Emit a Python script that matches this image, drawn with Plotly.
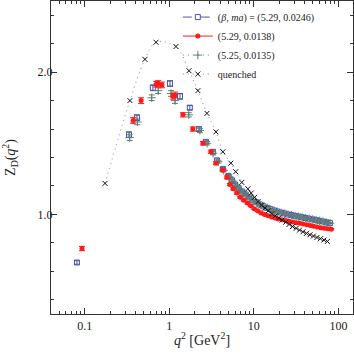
import plotly.graph_objects as go

FONT = "Liberation Serif, DejaVu Serif, serif"

# (beta, ma) = (5.29, 0.0246)
q2_a = [0.081, 0.334, 0.415, 0.64, 1.02, 1.34, 1.75, 2.24, 2.71, 3.28, 3.66, 4.3,
        5.0, 5.5, 6.0, 6.6, 7.3, 8.0, 8.8, 9.7, 10.7, 11.8, 13.0, 14.3, 15.7, 17.3,
        19.0, 20.9, 23.0, 25.3, 27.8, 30.6, 33.7, 37.0, 40.7, 44.8, 49.3, 54.2, 59.6,
        65.6, 72.1, 79.3]
z_a = [0.662, 1.56, 1.68, 1.89, 1.92, 1.83, 1.75, 1.60, 1.51, 1.44, 1.38, 1.32,
       1.27, 1.24, 1.21, 1.185, 1.16, 1.14, 1.12, 1.10, 1.085, 1.07, 1.057, 1.046,
       1.037, 1.028, 1.02, 1.013, 1.007, 1.0, 0.995, 0.99, 0.985, 0.98, 0.975, 0.97,
       0.965, 0.96, 0.955, 0.95, 0.944, 0.94]
err_a = [0.012, 0.02, 0.02, 0.02, 0.02, 0.02, 0.015, 0.015, 0.012, 0.012, 0.01, 0.01,
         0.01, 0.008, 0.008, 0.008, 0.006, 0.006, 0.006, 0.005, 0.005, 0.005, 0.005,
         0.005, 0.005, 0.005, 0.004, 0.004, 0.004, 0.004, 0.004, 0.004, 0.004, 0.004,
         0.004, 0.004, 0.004, 0.004, 0.004, 0.004, 0.004, 0.004]

# (5.29, 0.0138)
q2_b = [0.093, 0.374, 0.465, 0.70, 0.74, 0.82, 1.10, 1.17, 1.45, 1.9, 2.5, 3.1, 3.56,
        4.3, 4.8, 5.2, 5.7, 6.3, 6.9, 7.6, 8.4, 9.2, 10.1, 11.1, 12.2, 13.4, 14.7,
        16.2, 17.8, 19.6, 21.6, 23.8, 26.2, 28.8, 31.7, 34.9, 38.4, 42.2, 46.4, 51.0,
        56.1, 61.7, 67.9, 74.7, 82.2]
z_b = [0.76, 1.66, 1.80, 1.915, 1.92, 1.91, 1.83, 1.84, 1.70, 1.60, 1.50, 1.44, 1.36,
       1.31, 1.26, 1.21, 1.18, 1.15, 1.12, 1.10, 1.08, 1.06, 1.04, 1.025, 1.01, 1.0,
       0.99, 0.982, 0.975, 0.968, 0.962, 0.957, 0.952, 0.947, 0.942, 0.937, 0.932,
       0.927, 0.922, 0.917, 0.912, 0.907, 0.903, 0.899, 0.896]
err_b = [0.015, 0.02, 0.02, 0.02, 0.02, 0.02, 0.02, 0.02, 0.015, 0.015, 0.012, 0.012,
         0.01, 0.01, 0.01, 0.008, 0.008, 0.008, 0.006, 0.006, 0.006, 0.005, 0.005,
         0.005, 0.005, 0.005, 0.005, 0.004, 0.004, 0.004, 0.004, 0.004, 0.004, 0.004,
         0.004, 0.004, 0.004, 0.004, 0.004, 0.004, 0.004, 0.004, 0.004, 0.004, 0.004]

# (5.25, 0.0135)
q2_c = [0.34, 0.42, 0.62, 0.74, 1.05, 1.17, 1.7, 2.3, 2.8, 3.3, 3.8, 4.4,
        5.1, 5.6, 6.1, 6.7, 7.4, 8.1, 8.9, 9.8, 10.8, 11.9, 13.1, 14.4, 15.8, 17.4,
        19.1, 21.0, 23.1, 25.4, 27.9, 30.7, 33.8, 37.2, 40.9, 45.0, 49.5, 54.4, 59.8,
        65.8, 72.4, 79.6]
z_c = [1.54, 1.65, 1.82, 1.87, 1.85, 1.80, 1.70, 1.59, 1.50, 1.43, 1.37, 1.31,
       1.265, 1.235, 1.205, 1.18, 1.155, 1.135, 1.115, 1.098, 1.083, 1.068, 1.055,
       1.044, 1.035, 1.026, 1.018, 1.011, 1.005, 0.999, 0.994, 0.989, 0.984, 0.979,
       0.974, 0.969, 0.964, 0.959, 0.954, 0.949, 0.943, 0.938]
err_c = [0.02, 0.02, 0.02, 0.02, 0.02, 0.02, 0.015, 0.015, 0.012, 0.012, 0.01, 0.01,
         0.01, 0.008, 0.008, 0.008, 0.006, 0.006, 0.006, 0.005, 0.005, 0.005, 0.005,
         0.005, 0.005, 0.005, 0.004, 0.004, 0.004, 0.004, 0.004, 0.004, 0.004, 0.004,
         0.004, 0.004, 0.004, 0.004, 0.004, 0.004, 0.004, 0.004]

# quenched
q2_q = [0.174, 0.343, 0.516, 0.697, 1.2, 1.71, 2.18, 2.79, 3.56, 4.3, 5.35, 6.1, 7.2,
        8.5, 9.3, 10.2, 11.2, 12.3, 13.5, 14.8, 16.3, 17.9, 19.7, 21.6, 23.8, 26.1,
        28.7, 31.6, 34.7, 38.1, 41.9, 46.1, 50.6, 55.7, 61.2, 67.3, 74.0]
z_q = [1.218, 1.80, 2.09, 2.21, 2.18, 2.01, 1.87, 1.71, 1.58, 1.44, 1.36, 1.30, 1.225,
       1.18, 1.15, 1.12, 1.09, 1.065, 1.045, 1.025, 1.005, 0.99, 0.975, 0.96, 0.945,
       0.93, 0.915, 0.902, 0.89, 0.878, 0.867, 0.857, 0.848, 0.838, 0.829, 0.82, 0.81]

BLUE = "#4b55a8"
RED = "#ff1a1a"
GREEN = "#5f8074"
BLACK = "#111111"
DOTS = "1px,4px"

fig = go.Figure()


def err(arr, color):
    return dict(type="data", array=arr, color=color, thickness=1, width=3)


fig.add_trace(go.Scatter(
    x=q2_a, y=z_a, mode="markers", showlegend=False,
    marker=dict(symbol="square-open", size=5, color=BLUE, line=dict(width=1)),
    error_y=err(err_a, BLUE)))
fig.add_trace(go.Scatter(
    x=q2_c, y=z_c, mode="markers", showlegend=False,
    marker=dict(symbol="cross-thin-open", size=6, color=GREEN, line=dict(width=1, color=GREEN)),
    error_y=err(err_c, GREEN)))
fig.add_trace(go.Scatter(
    x=q2_b, y=z_b, mode="markers", showlegend=False,
    marker=dict(symbol="circle", size=5, color=RED),
    error_y=err(err_b, RED)))
fig.add_trace(go.Scatter(
    x=q2_q, y=z_q, mode="lines+markers", showlegend=False,
    line=dict(color="#888888", width=1, dash=DOTS, shape="spline"),
    marker=dict(symbol="x-thin-open", size=5, color=BLACK, line=dict(width=1, color=BLACK))))

# legend entries
fig.add_trace(go.Scatter(
    x=[None], y=[None], mode="lines+markers", legendrank=1,
    name="(<i>β</i>, <i>ma</i>) = (5.29, 0.0246)",
    line=dict(color=BLUE, width=1, dash="dash"),
    marker=dict(symbol="square-open", size=5, color=BLUE, line=dict(width=1))))
fig.add_trace(go.Scatter(
    x=[None], y=[None], mode="lines+markers", legendrank=2,
    name="(5.29, 0.0138)",
    line=dict(color=RED, width=1),
    marker=dict(symbol="circle", size=5, color=RED)))
fig.add_trace(go.Scatter(
    x=[None], y=[None], mode="lines+markers", legendrank=3,
    name="(5.25, 0.0135)",
    line=dict(color=GREEN, width=1, dash=DOTS),
    marker=dict(symbol="cross-thin-open", size=6, color=GREEN, line=dict(width=1, color=GREEN))))
fig.add_trace(go.Scatter(
    x=[None], y=[None], mode="lines+markers", legendrank=4,
    name="quenched",
    line=dict(color="#888888", width=1, dash=DOTS),
    marker=dict(symbol="x-thin-open", size=5, color=BLACK, line=dict(width=1, color=BLACK))))

axis_common = dict(
    showline=True, linecolor="#333333", linewidth=1, mirror="ticks",
    ticks="inside", ticklen=6, tickcolor="#333333", showgrid=False, zeroline=False,
)

fig.update_xaxes(
    type="log", range=[-1.398, 2.172],
    tickvals=[0.1, 1, 10, 100], ticktext=["0.1", "1", "10", "100"],
    minor=dict(ticks="inside", ticklen=3, tickcolor="#333333", dtick="D1", showgrid=False),
    ticklabelstandoff=1,
    title=dict(text="<i>q</i><sup>2</sup> [GeV<sup>2</sup>]", standoff=2),
    **axis_common)
fig.update_yaxes(
    range=[0.3, 2.5], tick0=0, dtick=1, tickformat=".1f",
    minor=dict(ticks="inside", ticklen=3, tickcolor="#333333", dtick=0.2, showgrid=False),
    ticklabelstandoff=-5,
    title=dict(text="Z<sub>D</sub>(<i>q</i><sup>2</sup>)", standoff=25),
    **axis_common)

fig.update_layout(
    width=354, height=354,
    margin=dict(l=51, r=1, t=1, b=40),
    plot_bgcolor="white", paper_bgcolor="white",
    font=dict(family=FONT, size=12, color="#222222"),
    legend=dict(x=0.42, y=0.995, xanchor="left", yanchor="top",
                bgcolor="rgba(0,0,0,0)", font=dict(size=10),
                tracegroupgap=0, itemwidth=30),
)

fig.write_html("out.html", config={"displayModeBar": False},
               post_script="document.body.style.margin='0';")
